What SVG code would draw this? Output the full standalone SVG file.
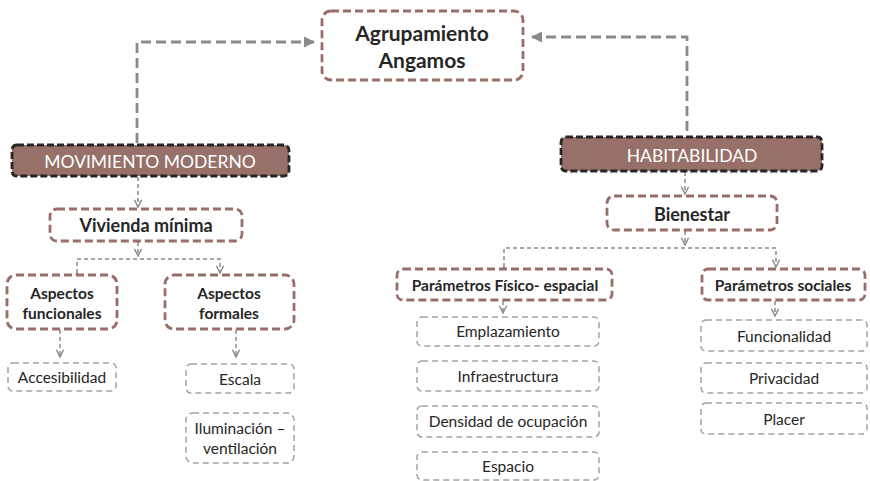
<svg xmlns="http://www.w3.org/2000/svg" width="870" height="481" viewBox="0 0 870 481">
<defs>
<marker id="ah" viewBox="0 0 10 10" refX="9" refY="5" markerWidth="4" markerHeight="4" orient="auto-start-reverse" markerUnits="strokeWidth"><path d="M0,0 L10,5 L0,10 z" fill="#8a8a8a"/></marker>
<marker id="as" viewBox="0 0 10 10" refX="9" refY="5" markerWidth="6" markerHeight="6" orient="auto" markerUnits="strokeWidth"><path d="M1,1 L9,5 L1,9" fill="none" stroke="#8a8a8a" stroke-width="1.6"/></marker>
</defs>
<style>
text{font-family:Lato,"Open Sans","Liberation Sans",sans-serif;text-anchor:middle;dominant-baseline:central;fill:#262626}
.main{fill:#fff;stroke:#9a6e68;stroke-width:2.8;stroke-dasharray:8 4}
.dark{fill:#967069;stroke:#262626;stroke-width:2.8;stroke-dasharray:7 3}
.leaf{fill:#fff;stroke:#a3a3a3;stroke-width:1.5;stroke-dasharray:6 4}
.t1{font-size:21px;font-weight:700}
.t2{font-size:18px;font-weight:700}
.t3{font-size:15.5px;font-weight:700}
.tw{font-size:17.5px;fill:#fff}
.tl{font-size:15.5px}
.big{fill:none;stroke:#8a8a8a;stroke-width:2.8;stroke-dasharray:10 5}
.sm{fill:none;stroke:#8a8a8a;stroke-width:1.5;stroke-dasharray:4 3}
</style>
<g id="connectors">
<path class="big" d="M137,143 V42 H314" marker-end="url(#ah)"/>
<path class="big" d="M687,131 V37 H532" marker-end="url(#ah)"/>
<path class="sm" d="M138,177 V207" marker-end="url(#as)"/>
<path class="sm" d="M685,172 V194" marker-end="url(#as)"/>
<path class="sm" d="M138,242 V256" marker-end="url(#as)"/>
<path class="sm" d="M77,273 V259 H220 V273" marker-start="url(#as)" marker-end="url(#as)"/>
<path class="sm" d="M60,330 V357" marker-end="url(#as)"/>
<path class="sm" d="M236,330 V357" marker-end="url(#as)"/>
<path class="sm" d="M685,231 V245" marker-end="url(#as)"/>
<path class="sm" d="M504,267 V248 H776 V267" marker-start="url(#as)" marker-end="url(#as)"/>
<path class="sm" d="M503,301 V313" marker-end="url(#as)"/>
<path class="sm" d="M775,301 V316" marker-end="url(#as)"/>
</g>
<g id="agrupamiento"><rect class="main" x="322" y="11" width="201" height="69" rx="9"/><text class="t1" x="422" y="32">Agrupamiento</text><text class="t1" x="422" y="59">Angamos</text></g>
<g id="movimiento"><rect class="dark" x="12" y="145" width="277" height="31" rx="5"/><text class="tw" x="150" y="161">MOVIMIENTO MODERNO</text></g>
<g id="habitabilidad"><rect class="dark" x="561" y="137" width="261" height="34" rx="5"/><text class="tw" x="692" y="155">HABITABILIDAD</text></g>
<g id="vivienda"><rect class="main" x="50" y="209" width="192" height="32" rx="7"/><text class="t2" x="146" y="225">Vivienda mínima</text></g>
<g id="bienestar"><rect class="main" x="607" y="196" width="170" height="34" rx="7"/><text class="t2" x="692" y="214">Bienestar</text></g>
<g id="funcionales"><rect class="main" x="7" y="275" width="110" height="54" rx="9"/><text class="t3" x="62" y="293">Aspectos</text><text class="t3" x="62" y="313">funcionales</text></g>
<g id="formales"><rect class="main" x="165" y="275" width="129" height="54" rx="9"/><text class="t3" x="229" y="293">Aspectos</text><text class="t3" x="229" y="313">formales</text></g>
<g id="accesibilidad"><rect class="leaf" x="8" y="363" width="108" height="28" rx="5"/><text class="tl" x="62" y="377">Accesibilidad</text></g>
<g id="escala"><rect class="leaf" x="186" y="364" width="108" height="29" rx="5"/><text class="tl" x="240" y="379">Escala</text></g>
<g id="iluminacion"><rect class="leaf" x="186" y="413" width="108" height="50" rx="7"/><text class="tl" x="240" y="428">Iluminación –</text><text class="tl" x="240" y="448">ventilación</text></g>
<g id="fisico"><rect class="main" x="397" y="269" width="215" height="31" rx="6"/><text class="t3" x="505" y="285">Parámetros Físico- espacial</text></g>
<g id="sociales"><rect class="main" x="702" y="269" width="163" height="31" rx="6"/><text class="t3" x="783" y="285">Parámetros sociales</text></g>
<g id="emplazamiento"><rect class="leaf" x="417" y="317" width="182" height="29" rx="5"/><text class="tl" x="508" y="331">Emplazamiento</text></g>
<g id="infraestructura"><rect class="leaf" x="417" y="361" width="182" height="30" rx="5"/><text class="tl" x="508" y="376">Infraestructura</text></g>
<g id="densidad"><rect class="leaf" x="417" y="406" width="182" height="31" rx="5"/><text class="tl" x="508" y="421">Densidad de ocupación</text></g>
<g id="espacio"><rect class="leaf" x="417" y="452" width="182" height="28" rx="5"/><text class="tl" x="508" y="466">Espacio</text></g>
<g id="funcionalidad"><rect class="leaf" x="701" y="320" width="166" height="31" rx="5"/><text class="tl" x="784" y="336">Funcionalidad</text></g>
<g id="privacidad"><rect class="leaf" x="701" y="363" width="166" height="30" rx="5"/><text class="tl" x="784" y="378">Privacidad</text></g>
<g id="placer"><rect class="leaf" x="701" y="403" width="166" height="31" rx="5"/><text class="tl" x="784" y="419">Placer</text></g>
</svg>
